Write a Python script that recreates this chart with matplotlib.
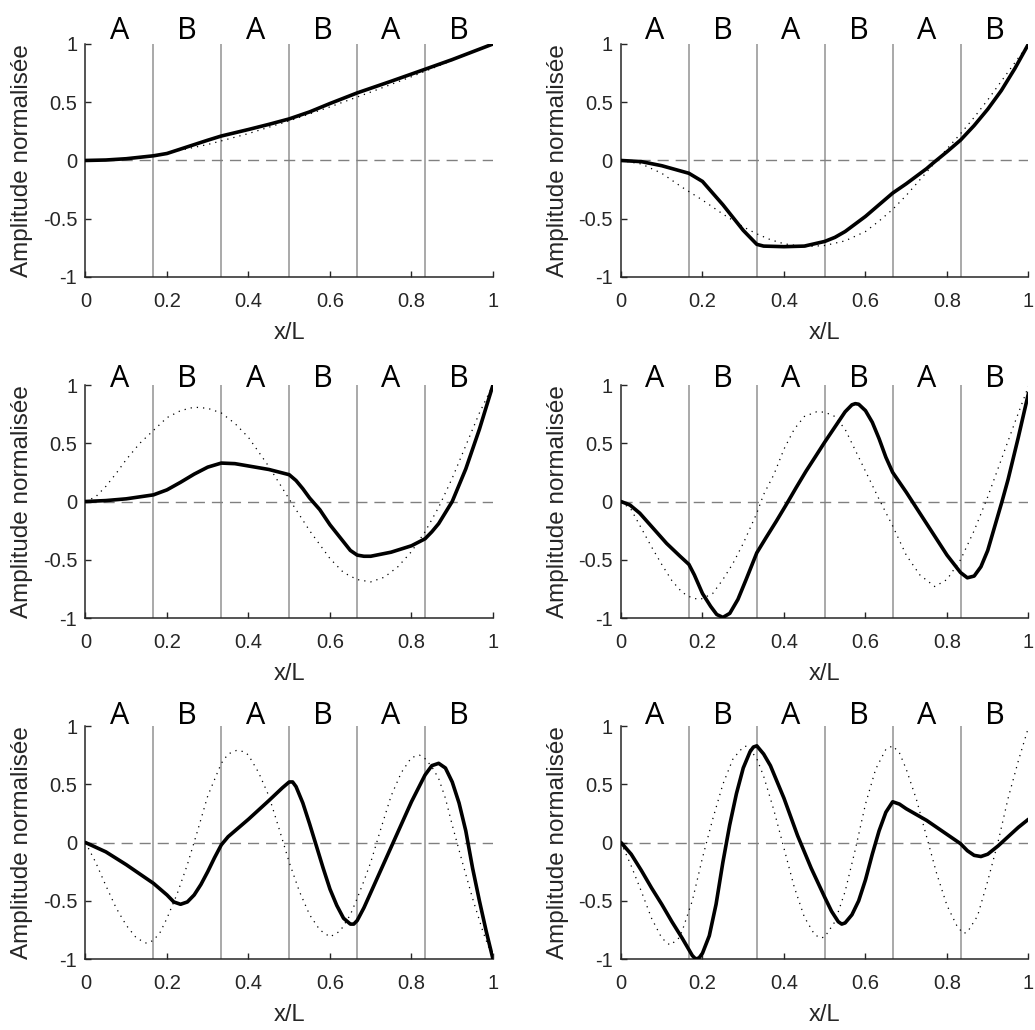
import matplotlib
matplotlib.use("Agg")
import matplotlib.pyplot as plt

# Mode 1
x_s1 = [0, 0.05, 0.1, 0.1667, 0.2, 0.25, 0.3, 0.3333, 0.4, 0.45, 0.5, 0.55, 0.6, 0.6667, 0.75, 0.8333, 0.9, 1]
y_s1 = [0, 0.004, 0.015, 0.04, 0.06, 0.117, 0.174, 0.21, 0.266, 0.31, 0.357, 0.417, 0.489, 0.58, 0.68, 0.783, 0.866, 1]
x_d1 = [0, 0.05, 0.1, 0.15, 0.2, 0.3, 0.4, 0.5, 0.6, 0.7, 0.8, 0.9, 1]
y_d1 = [0, 0.005, 0.017, 0.038, 0.064, 0.137, 0.231, 0.34, 0.46, 0.587, 0.719, 0.859, 1]

# Mode 2
x_s2 = [0, 0.05, 0.1, 0.1667, 0.2, 0.25, 0.3, 0.3333, 0.35, 0.4, 0.45, 0.5, 0.525, 0.55, 0.6, 0.6333,
        0.6667, 0.7, 0.75, 0.7667, 0.8, 0.8333, 0.8667, 0.9, 0.9333, 0.9667, 1]
y_s2 = [0, -0.01, -0.045, -0.11, -0.18, -0.38, -0.6, -0.72, -0.735, -0.74, -0.735, -0.695, -0.66, -0.61, -0.48, -0.38,
        -0.28, -0.2, -0.07, -0.02, 0.075, 0.175, 0.3, 0.44, 0.6, 0.79, 1]
x_d2 = [0, 0.05, 0.1, 0.15, 0.2, 0.25, 0.3, 0.3333, 0.3667, 0.4, 0.45, 0.5, 0.55, 0.6, 0.6333, 0.6667,
        0.7, 0.75, 0.8, 0.8333, 0.8667, 0.9, 0.9333, 0.9667, 1]
y_d2 = [0, -0.03, -0.11, -0.23, -0.34, -0.46, -0.57, -0.63, -0.68, -0.715, -0.74, -0.73, -0.69, -0.61, -0.52, -0.42,
        -0.3, -0.1, 0.1, 0.23, 0.37, 0.52, 0.68, 0.84, 1]

# Mode 3
x_s3 = [0, 0.05, 0.1, 0.1667, 0.2, 0.2333, 0.2667, 0.3, 0.3333, 0.3667, 0.4, 0.45, 0.5, 0.5167, 0.5333, 0.55,
        0.575, 0.6, 0.625, 0.65, 0.6667, 0.6833, 0.7, 0.75, 0.8, 0.8333, 0.85, 0.8667, 0.9, 0.9333, 0.9667, 1]
y_s3 = [0, 0.008, 0.023, 0.057, 0.1, 0.165, 0.235, 0.295, 0.33, 0.325, 0.305, 0.275, 0.23, 0.18, 0.11, 0.03,
        -0.07, -0.2, -0.31, -0.42, -0.46, -0.47, -0.47, -0.435, -0.38, -0.32, -0.26, -0.19, 0.0, 0.28, 0.62, 1]
x_d3 = [0, 0.025, 0.05, 0.075, 0.1, 0.1333, 0.1667, 0.2, 0.2333, 0.2667, 0.3, 0.3333, 0.3667, 0.4, 0.45, 0.5,
        0.55, 0.6, 0.6333, 0.6667, 0.7, 0.7333, 0.7667, 0.8, 0.8333, 0.8667, 0.9, 0.9333, 0.9667, 1]
y_d3 = [0, 0.04, 0.13, 0.24, 0.36, 0.5, 0.61, 0.72, 0.78, 0.81, 0.8, 0.76, 0.67, 0.55, 0.3, 0.02,
        -0.25, -0.49, -0.61, -0.67, -0.69, -0.65, -0.56, -0.43, -0.26, -0.05, 0.2, 0.48, 0.76, 1]

# Mode 4
x_s4 = [0, 0.022, 0.046, 0.079, 0.112, 0.145, 0.1667, 0.18, 0.2, 0.22, 0.235, 0.25, 0.267, 0.287, 0.307,
        0.3333, 0.356, 0.381, 0.405, 0.43, 0.454, 0.478, 0.5, 0.525, 0.55, 0.5667, 0.575, 0.5833, 0.6, 0.6167,
        0.6333, 0.65, 0.6667, 0.7, 0.75, 0.8, 0.8333, 0.85, 0.8667, 0.8833, 0.9, 0.935, 0.95, 0.975, 1]
y_s4 = [0, -0.03, -0.1, -0.23, -0.36, -0.47, -0.54, -0.63, -0.79, -0.9, -0.97, -0.995, -0.96, -0.84, -0.67,
        -0.44, -0.31, -0.17, -0.03, 0.12, 0.26, 0.39, 0.51, 0.64, 0.77, 0.83, 0.84, 0.835, 0.78, 0.68,
        0.54, 0.38, 0.25, 0.08, -0.19, -0.46, -0.61, -0.655, -0.64, -0.56, -0.42, 0.0, 0.19, 0.55, 0.93]
x_d4 = [0, 0.025, 0.05, 0.075, 0.1, 0.125, 0.15, 0.175, 0.195, 0.225, 0.25, 0.275, 0.3, 0.3333, 0.35, 0.375,
        0.4, 0.425, 0.45, 0.48, 0.5, 0.525, 0.55, 0.6, 0.6333, 0.6667, 0.7, 0.7333, 0.77, 0.8, 0.8333,
        0.8667, 0.9, 0.9333, 0.9667, 1]
y_d4 = [0, -0.07, -0.23, -0.39, -0.54, -0.68, -0.78, -0.83, -0.84, -0.79, -0.67, -0.53, -0.36, -0.1, 0.06, 0.23,
        0.45, 0.62, 0.73, 0.77, 0.767, 0.73, 0.62, 0.26, 0.02, -0.21, -0.46, -0.63, -0.73, -0.67, -0.5,
        -0.25, 0.04, 0.36, 0.68, 0.99]

# Mode 5
x_s5 = [0, 0.05, 0.1, 0.1333, 0.1667, 0.2, 0.2167, 0.2333, 0.25, 0.2667, 0.2833, 0.3, 0.3167, 0.3333, 0.35,
        0.3667, 0.4, 0.45, 0.4833, 0.5, 0.5083, 0.5167, 0.5333, 0.55, 0.5667, 0.5833, 0.6, 0.6167, 0.6333,
        0.65, 0.6583, 0.6667, 0.6833, 0.7, 0.75, 0.8, 0.8333, 0.85, 0.8667, 0.8833, 0.9, 0.9167, 0.9333,
        0.95, 0.9667, 0.9833, 1]
y_s5 = [0, -0.08, -0.19, -0.27, -0.35, -0.45, -0.51, -0.53, -0.51, -0.45, -0.36, -0.25, -0.13, -0.02, 0.05,
        0.1, 0.2, 0.36, 0.47, 0.52, 0.52, 0.48, 0.34, 0.16, -0.03, -0.22, -0.4, -0.54, -0.65,
        -0.7, -0.7, -0.67, -0.56, -0.43, -0.04, 0.35, 0.58, 0.66, 0.68, 0.64, 0.52, 0.34, 0.1,
        -0.22, -0.5, -0.76, -1]
x_d5 = [0, 0.025, 0.05, 0.075, 0.1, 0.125, 0.15, 0.1667, 0.1833, 0.2, 0.225, 0.25, 0.275, 0.3, 0.3333, 0.35,
        0.37, 0.39, 0.4, 0.425, 0.45, 0.475, 0.5, 0.525, 0.55, 0.575, 0.6, 0.625, 0.65, 0.6667, 0.6833,
        0.7, 0.725, 0.75, 0.775, 0.8, 0.82, 0.8333, 0.85, 0.8667, 0.8833, 0.9, 0.925, 0.95, 0.975, 1]
y_d5 = [0, -0.17, -0.37, -0.56, -0.71, -0.82, -0.865, -0.84, -0.77, -0.65, -0.44, -0.19, 0.1, 0.4, 0.68, 0.76,
        0.79, 0.78, 0.75, 0.6, 0.4, 0.12, -0.17, -0.42, -0.62, -0.75, -0.81, -0.76, -0.62, -0.48, -0.33,
        -0.17, 0.12, 0.4, 0.6, 0.73, 0.75, 0.72, 0.65, 0.55, 0.38, 0.15, -0.17, -0.48, -0.76, -1]

# Mode 6
x_s6 = [0, 0.025, 0.05, 0.075, 0.1, 0.125, 0.15, 0.1667, 0.175, 0.1833, 0.1917, 0.2, 0.2167, 0.2333, 0.25,
        0.2667, 0.2833, 0.3, 0.3167, 0.325, 0.3333, 0.35, 0.3667, 0.4, 0.4333, 0.4667, 0.5, 0.5167, 0.5333,
        0.5417, 0.55, 0.5667, 0.5833, 0.6, 0.6167, 0.6333, 0.65, 0.6667, 0.6833, 0.7, 0.75, 0.8, 0.8333,
        0.85, 0.8667, 0.8833, 0.9, 0.925, 0.95, 0.975, 1]
y_s6 = [0, -0.1, -0.24, -0.39, -0.53, -0.68, -0.82, -0.92, -0.97, -1.0, -0.99, -0.95, -0.8, -0.53, -0.17,
        0.15, 0.42, 0.64, 0.78, 0.82, 0.83, 0.76, 0.66, 0.38, 0.06, -0.22, -0.47, -0.59, -0.68,
        -0.7, -0.69, -0.62, -0.5, -0.32, -0.1, 0.1, 0.26, 0.35, 0.33, 0.29, 0.19, 0.07, -0.01,
        -0.07, -0.11, -0.12, -0.1, -0.03, 0.05, 0.13, 0.2]
x_d6 = [0, 0.025, 0.05, 0.075, 0.1, 0.12, 0.14, 0.15, 0.175, 0.2, 0.225, 0.25, 0.275, 0.3, 0.31, 0.3333, 0.35,
        0.375, 0.4, 0.425, 0.45, 0.475, 0.49, 0.5, 0.525, 0.55, 0.575, 0.6, 0.625, 0.65, 0.6667, 0.6833,
        0.7, 0.725, 0.75, 0.775, 0.8, 0.825, 0.84, 0.85, 0.875, 0.9, 0.925, 0.95, 0.975, 1]
y_d6 = [0, -0.2, -0.42, -0.65, -0.82, -0.88, -0.83, -0.76, -0.5, -0.13, 0.2, 0.5, 0.72, 0.82, 0.83, 0.72, 0.57,
        0.28, -0.05, -0.38, -0.64, -0.79, -0.82, -0.81, -0.68, -0.42, -0.06, 0.33, 0.63, 0.8, 0.83, 0.77,
        0.63, 0.37, 0.05, -0.27, -0.54, -0.72, -0.78, -0.77, -0.63, -0.33, 0.0, 0.38, 0.7, 0.99]

solid_x = [x_s1, x_s2, x_s3, x_s4, x_s5, x_s6]
solid_y = [y_s1, y_s2, y_s3, y_s4, y_s5, y_s6]
dot_x = [x_d1, x_d2, x_d3, x_d4, x_d5, x_d6]
dot_y = [y_d1, y_d2, y_d3, y_d4, y_d5, y_d6]

zone_labels = ['A', 'B', 'A', 'B', 'A', 'B']
interfaces = [1/6, 2/6, 3/6, 4/6, 5/6]
xticks = [0, 0.2, 0.4, 0.6, 0.8, 1]
xticklabels = ['0', '0.2', '0.4', '0.6', '0.8', '1']
yticks = [-1, -0.5, 0, 0.5, 1]
yticklabels = ['-1', '-0.5', '0', '0.5', '1']

plt.rcParams['font.family'] = ['Liberation Sans', 'DejaVu Sans']

fig = plt.figure(figsize=(10.35, 10.30), dpi=100)

lefts = [0.0826, 0.600]
bottoms = [0.7311, 0.400, 0.0689]
label_y = [1.045, 0.985, 1.02]
w, h = 0.3937, 0.2262

for i in range(6):
    row, col = i // 2, i % 2
    ax = fig.add_axes([lefts[col], bottoms[row], w, h])

    for xv in interfaces:
        ax.axvline(xv, color='#929292', lw=1.1, zorder=1)
    ax.axhline(0, color='#808080', lw=1.0, dashes=(8, 5), zorder=1)

    ax.plot(dot_x[i], dot_y[i], color='black', lw=0.9, linestyle=(0, (1, 4)), zorder=2)
    ax.plot(solid_x[i], solid_y[i], color='black', lw=2.6, zorder=3,
            solid_joinstyle='round', solid_capstyle='round')

    ax.set_xlim(0, 1)
    ax.set_ylim(-1, 1)
    ax.set_xticks(xticks)
    ax.set_xticklabels(xticklabels)
    ax.set_yticks(yticks)
    ax.set_yticklabels(yticklabels)
    ax.tick_params(direction='in', length=4, width=1, labelsize=14.5,
                   colors='#262626', labelcolor='#262626')
    ax.tick_params(axis='x', pad=11)
    ax.tick_params(axis='y', pad=6)
    for s in ['top', 'right']:
        ax.spines[s].set_visible(False)
    for s in ['left', 'bottom']:
        ax.spines[s].set_color('#262626')
        ax.spines[s].set_linewidth(1.1)

    ax.set_xlabel('x/L', fontsize=17, color='#262626', va='center')
    ax.xaxis.set_label_coords(0.5, -0.24)
    ax.set_ylabel('Amplitude normalisée', fontsize=17.5, color='#262626', va='center')
    ax.yaxis.set_label_coords(-0.155, 0.5)

    for k, lab in enumerate(zone_labels):
        ax.text((k + 0.5) / 6, label_y[row], lab, ha='center', va='baseline',
                fontsize=22, family=['Open Sans', 'DejaVu Sans'], color='black',
                clip_on=False)

fig.savefig('out.png', dpi=100)
